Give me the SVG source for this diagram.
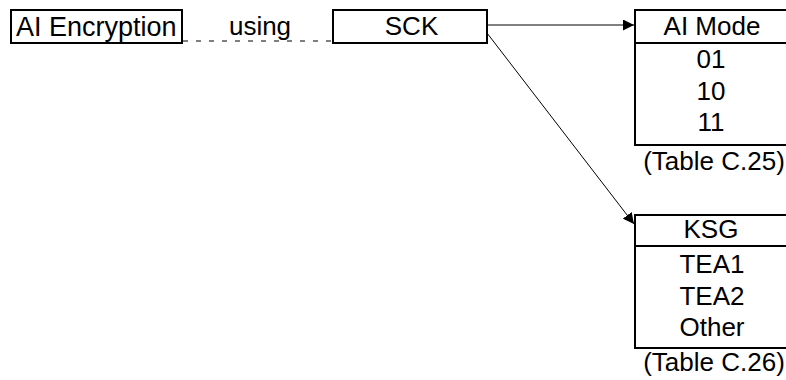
<svg xmlns="http://www.w3.org/2000/svg" width="786" height="380" viewBox="0 0 786 380">
<defs>
<style>
.box{fill:#fff;stroke:#000;stroke-width:2}
.div{stroke:#000;stroke-width:2}
text{font-family:"Liberation Sans",Arial,sans-serif;font-size:26px;fill:#000}
.c{text-anchor:middle}
.ln{stroke:#000;stroke-width:1;fill:none}
</style>
<marker id="ah" viewBox="0 0 10 10" refX="10" refY="5" markerWidth="11" markerHeight="11" markerUnits="userSpaceOnUse" orient="auto">
<path d="M0,0 L10,5 L0,10 z" fill="#000"/>
</marker>
</defs>
<rect width="786" height="380" fill="#fff"/>
<g id="connectors">
<line class="ln" x1="183" y1="41" x2="333" y2="41" stroke="#444" stroke-dasharray="5,8"/>
<line class="ln" x1="487" y1="25" x2="634" y2="25" marker-end="url(#ah)"/>
<line class="ln" x1="487" y1="33" x2="634" y2="224" marker-end="url(#ah)"/>
</g>
<g id="ai-encryption">
<rect class="box" x="11" y="10" width="171" height="33"/>
<text x="16" y="36" style="font-size:27px">AI Encryption</text>
</g>
<g id="using-label">
<text class="c" x="260" y="35">using</text>
</g>
<g id="sck">
<rect class="box" x="333" y="10" width="154" height="33"/>
<text class="c" x="411.5" y="35">SCK</text>
</g>
<g id="ai-mode">
<rect class="box" x="635" y="10" width="160" height="135"/>
<line class="div" x1="635" y1="43" x2="795" y2="43"/>
<text class="c" x="712" y="35">AI Mode</text>
<text class="c" x="711" y="68">01</text>
<text class="c" x="711" y="100">10</text>
<text class="c" x="711" y="131">11</text>
<text class="c" x="714" y="170">(Table C.25)</text>
</g>
<g id="ksg">
<rect class="box" x="635" y="215" width="160" height="133"/>
<line class="div" x1="635" y1="246" x2="795" y2="246"/>
<text class="c" x="711" y="238">KSG</text>
<text class="c" x="712" y="273">TEA1</text>
<text class="c" x="712" y="305">TEA2</text>
<text class="c" x="712" y="336">Other</text>
<text class="c" x="714" y="371">(Table C.26)</text>
</g>
</svg>
